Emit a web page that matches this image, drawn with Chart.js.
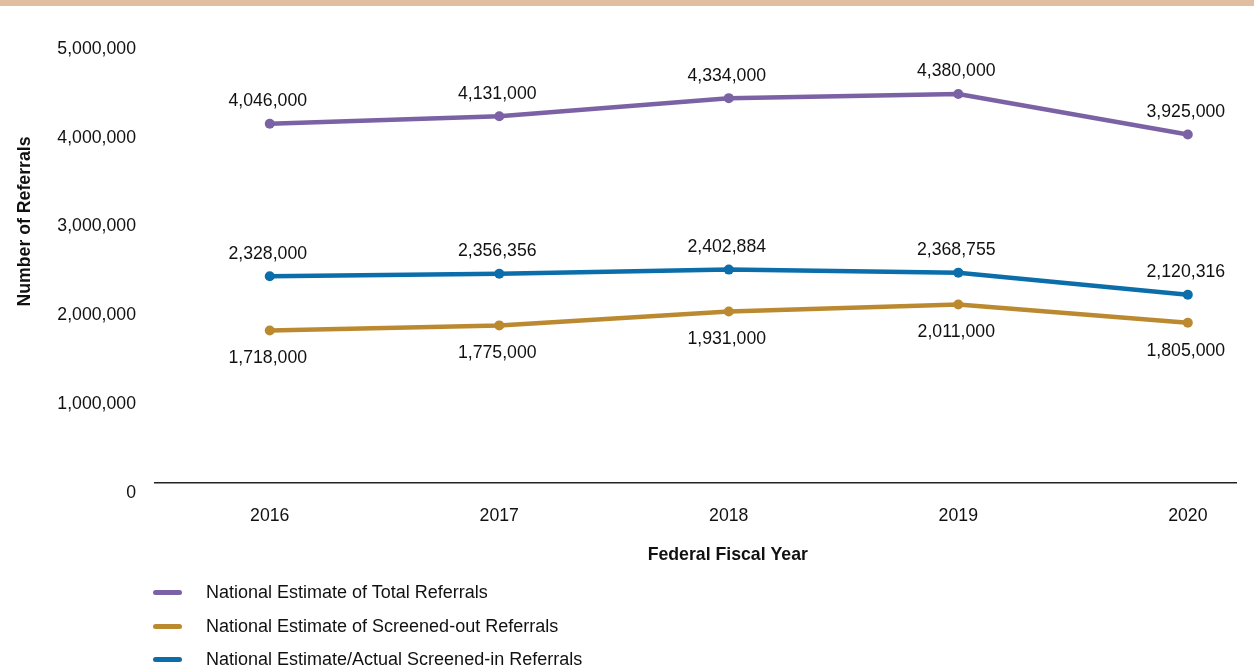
<!DOCTYPE html>
<html>
<head>
<meta charset="utf-8">
<script src="https://cdn.jsdelivr.net/npm/chart.js@4"></script>
<style>
html,body{margin:0;padding:0;background:#fff;}
#wrap{position:relative;width:1254px;height:671px;overflow:hidden;font-family:"Liberation Sans",Arial,Helvetica,sans-serif;}
#topbar{position:absolute;left:0;top:0;width:1254px;height:6px;background:#e2bea1;z-index:2;}
#chart{position:absolute;left:0;top:0;}
#legend{position:absolute;left:153px;top:575.75px;}
.row{display:flex;align-items:center;height:33.5px;}
.mark{width:29px;height:5px;border-radius:3px;margin-right:24px;}
.txt{font-size:18px;color:#111;white-space:nowrap;}
</style>
</head>
<body>
<div id="wrap">
  <div id="topbar"></div>
  <canvas id="chart" width="1254" height="671"></canvas>
  <div id="legend"></div>
</div>
<script>
const years = [2016, 2017, 2018, 2019, 2020];
const totalReferrals = [4046000, 4131000, 4334000, 4380000, 3925000];
const screenedOutReferrals = [1718000, 1775000, 1931000, 2011000, 1805000];
const screenedInReferrals = [2328000, 2356356, 2402884, 2368755, 2120316];
const yTickValues = [0, 1000000, 2000000, 3000000, 4000000, 5000000];
const seriesNames = [
  "National Estimate of Total Referrals",
  "National Estimate of Screened-out Referrals",
  "National Estimate/Actual Screened-in Referrals"
];
const seriesColors = ["#7b62a4", "#bb8a30", "#0b6eaa"];
const labelSides = ["above", "below", "above"];
const yTitle = "Number of Referrals";
const xTitle = "Federal Fiscal Year";

const FONT = '"Liberation Sans", Arial, Helvetica, sans-serif';
const TEXT = '#111111';
const FS = 17.7;
const fmt = v => Number(v).toLocaleString('en-US');

const seriesValues = [totalReferrals, screenedOutReferrals, screenedInReferrals];

const datasets = seriesValues.map((vals, i) => ({
  label: seriesNames[i],
  data: years.map((y, j) => ({x: y, y: vals[j]})),
  borderColor: seriesColors[i],
  backgroundColor: seriesColors[i],
  pointBackgroundColor: seriesColors[i],
  pointBorderColor: seriesColors[i],
  borderWidth: 4.5,
  pointRadius: 5,
  pointBorderWidth: 0,
  tension: 0,
  labelSide: labelSides[i],
  order: 3 - i
}));

const valueLabels = {
  id: 'valueLabels',
  afterDatasetsDraw(chart) {
    const ctx = chart.ctx;
    ctx.save();
    ctx.font = FS + 'px ' + FONT;
    ctx.fillStyle = TEXT;
    ctx.textAlign = 'center';
    ctx.textBaseline = 'middle';
    chart.data.datasets.forEach((ds, i) => {
      const meta = chart.getDatasetMeta(i);
      meta.data.forEach((pt, j) => {
        const dy = ds.labelSide === 'below' ? 28 : -22.5;
        ctx.fillText(fmt(ds.data[j].y), pt.x - 2, pt.y + dy);
      });
    });
    ctx.restore();
  }
};

const axisTitles = {
  id: 'axisTitles',
  afterDraw(chart) {
    const ctx = chart.ctx;
    const a = chart.chartArea;
    const xs = chart.scales.x;
    ctx.save();
    ctx.font = 'bold ' + FS + 'px ' + FONT;
    ctx.fillStyle = TEXT;
    ctx.textAlign = 'center';
    ctx.textBaseline = 'middle';
    const cx = (xs.getPixelForValue(years[0]) + xs.getPixelForValue(years[years.length - 1])) / 2;
    ctx.fillText(xTitle, cx - 1, a.bottom + 72);
    ctx.translate(a.left - 130, a.top + 182.5);
    ctx.rotate(-Math.PI / 2);
    ctx.fillText(yTitle, 0, 0);
    ctx.restore();
  }
};

new Chart(document.getElementById('chart'), {
  type: 'line',
  data: { datasets },
  options: {
    responsive: false,
    animation: false,
    devicePixelRatio: 1,
    layout: { padding: { top: 39, right: 18, left: 0, bottom: 0 } },
    plugins: { legend: { display: false }, tooltip: { enabled: false } },
    scales: {
      x: {
        type: 'linear',
        min: 2015.5,
        max: 2020.21,
        afterBuildTicks: s => { s.ticks = years.map(v => ({value: v})); },
        afterFit: s => { s.height = 188; },
        grid: { display: false, drawTicks: false },
        border: { display: true, color: '#222', width: 1.5 },
        ticks: {
          padding: 22,
          color: TEXT,
          font: { family: FONT, size: FS },
          maxRotation: 0,
          autoSkip: false,
          callback: v => String(v)
        }
      },
      y: {
        min: 0,
        max: 5000000,
        afterBuildTicks: s => { s.ticks = yTickValues.map(v => ({value: v})); },
        afterFit: s => { s.width = 155; },
        grid: { display: false, drawTicks: false },
        border: { display: false },
        ticks: {
          padding: 19,
          labelOffset: 10,
          color: TEXT,
          font: { family: FONT, size: FS },
          callback: v => fmt(v)
        }
      }
    }
  },
  plugins: [valueLabels, axisTitles]
});

const legend = document.getElementById('legend');
seriesNames.forEach((name, i) => {
  const row = document.createElement('div');
  row.className = 'row';
  const m = document.createElement('span');
  m.className = 'mark';
  m.style.background = seriesColors[i];
  const t = document.createElement('span');
  t.className = 'txt';
  t.textContent = name;
  row.appendChild(m);
  row.appendChild(t);
  legend.appendChild(row);
});
</script>
</body>
</html>
